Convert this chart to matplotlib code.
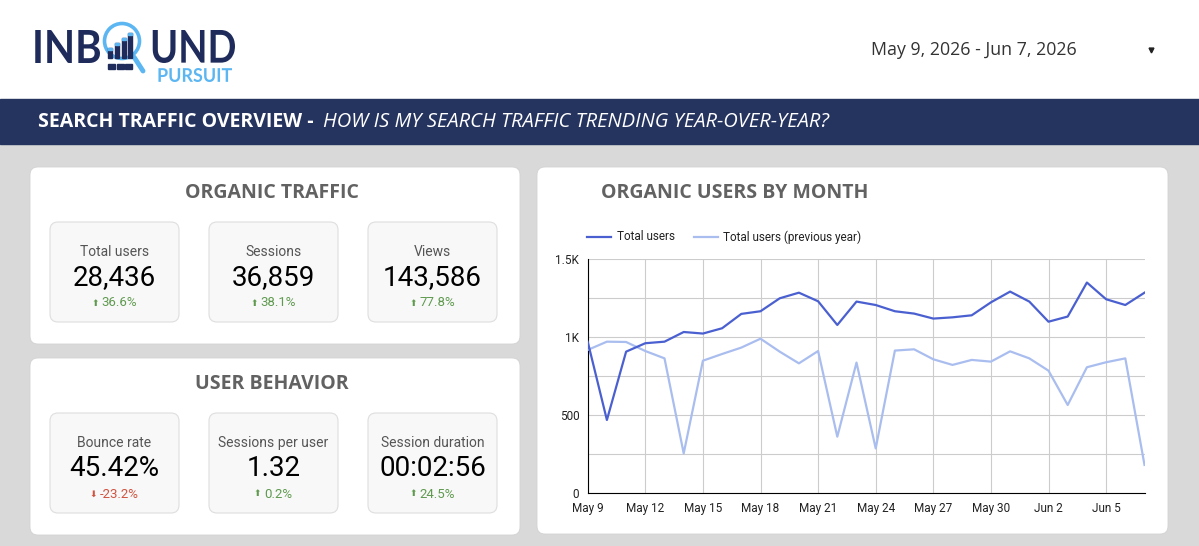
import matplotlib.pyplot as plt
from matplotlib.patches import FancyBboxPatch, Rectangle, Circle, PathPatch
from matplotlib.textpath import TextPath
from matplotlib.font_manager import FontProperties
from matplotlib.transforms import Affine2D
import numpy as np

# Data
days = ['May 9', 'May 10', 'May 11', 'May 12', 'May 13', 'May 14', 'May 15', 'May 16',
        'May 17', 'May 18', 'May 19', 'May 20', 'May 21', 'May 22', 'May 23', 'May 24',
        'May 25', 'May 26', 'May 27', 'May 28', 'May 29', 'May 30', 'May 31', 'Jun 1',
        'Jun 2', 'Jun 3', 'Jun 4', 'Jun 5', 'Jun 6', 'Jun 7']
users = [972, 470, 908, 962, 972, 1034, 1024, 1058, 1150, 1167, 1250, 1286, 1231, 1079,
         1229, 1207, 1167, 1152, 1120, 1128, 1141, 1224, 1293, 1229, 1100, 1133, 1351,
         1244, 1207, 1286]
users_prev = [919, 972, 970, 912, 865, 256, 850, 893, 934, 991, 908, 833, 912, 363, 838,
              288, 915, 923, 859, 823, 855, 844, 910, 865, 786, 566, 808, 840, 865, 182]

traffic_labels = ['Total users', 'Sessions', 'Views']
traffic_values = ['28,436', '36,859', '143,586']
traffic_deltas = ['36.6%', '38.1%', '77.8%']
traffic_up = [True, True, True]

behavior_labels = ['Bounce rate', 'Sessions per user', 'Session duration']
behavior_values = ['45.42%', '1.32', '00:02:56']
behavior_deltas = ['-23.2%', '0.2%', '24.5%']
behavior_up = [False, True, True]

date_range = 'May 9, 2026 - Jun 7, 2026'

W, H = 1199, 546
NAVY = '#25335f'
LOGO_NAVY = '#1f2c5b'
LOGO_BLUE = '#5cb6f2'
BG = '#d9d9d9'
TITLE = '#626262'
DARK = '#4b60d0'
LIGHT = '#a9bdef'
GREEN = '#5f9a4f'
RED = '#d0533f'

fig = plt.figure(figsize=(W / 100, H / 100), dpi=100)
deco = fig.add_axes([0, 0, 1, 1])
deco.set_xlim(0, W)
deco.set_ylim(H, 0)
deco.axis('off')
renderer = fig.canvas.get_renderer()


def fitted_text(s, x0, x1, ytop, ybot, color, family='Lato', weight='normal'):
    # text drawn as a path, stretched into the given pixel box
    tp = TextPath((0, 0), s, size=100, prop=FontProperties(family=family, weight=weight))
    v = tp.vertices
    bx0, bx1 = v[:, 0].min(), v[:, 0].max()
    by0, by1 = v[:, 1].min(), v[:, 1].max()
    tr = (Affine2D().translate(-bx0, -by0)
          .scale((x1 - x0) / (bx1 - bx0), -(ybot - ytop) / (by1 - by0))
          .translate(x0, ybot))
    deco.add_patch(PathPatch(tr.transform_path(tp), fc=color, ec='none', zorder=3))


# page background, banner
deco.add_patch(Rectangle((0, 0), W, H, color=BG, zorder=0))
deco.add_patch(Rectangle((0, 0), W, 99, color='white', zorder=0))
deco.add_patch(Rectangle((0, 99), W, 45, color=NAVY, zorder=0))
bold = deco.text(38, 122, 'SEARCH TRAFFIC OVERVIEW - ', color='white', fontsize=14,
                 fontfamily='Open Sans', fontweight='bold', va='center', ha='left')
bb = bold.get_window_extent(renderer)
deco.text(bb.x1 + 4, 122, 'HOW IS MY SEARCH TRAFFIC TRENDING YEAR-OVER-YEAR?', color='white',
          fontsize=14.5, fontfamily='Open Sans', fontstyle='italic', va='center', ha='left')

# logo
fitted_text('INB', 32, 100, 30, 63, LOGO_NAVY, weight='bold')
fitted_text('UND', 150, 235, 30, 63, LOGO_NAVY, weight='bold')
fitted_text('PURSUIT', 157, 232, 68, 82, LOGO_BLUE, weight='bold')
deco.add_patch(Circle((122, 41), 17.5, fill=False, ec=LOGO_BLUE, lw=2.6, zorder=3))
deco.plot([134, 143], [57, 71], color=LOGO_BLUE, lw=3.5, solid_capstyle='round', zorder=3)
for bx, btop in zip([108, 115, 122, 128], [48, 43, 38, 33]):
    deco.add_patch(Rectangle((bx, btop), 4, 58 - btop, color=LOGO_NAVY, zorder=4))
    deco.add_patch(Rectangle((bx, btop), 4, 2, color=LOGO_BLUE, zorder=5))
for bx in [108, 117, 125]:
    deco.add_patch(Rectangle((bx, 64), 7, 4.5, color=LOGO_NAVY, zorder=4))

# date picker
deco.text(974, 50, date_range, color='#333333', fontsize=12.8, fontfamily='Open Sans',
          va='center', ha='center')
deco.plot([1151], [50], marker='v', color='#222222', markersize=3.5)


def card(x, y, w, h):
    deco.add_patch(FancyBboxPatch((x, y), w, h, boxstyle='round,pad=0,rounding_size=8',
                                  fc='white', ec='#d2d2d2', lw=0.6, zorder=1))


def kpi_panel(top, title, labels, values, deltas, ups):
    card(30, top, 490, 177)
    deco.text(272, top + 26, title, color=TITLE, fontsize=14, fontfamily='Open Sans',
              fontweight='bold', ha='center', va='center')
    for i, (lab, val, dl, up) in enumerate(zip(labels, values, deltas, ups)):
        bx = 50 + i * 159
        deco.add_patch(FancyBboxPatch((bx, top + 55), 129, 100,
                                      boxstyle='round,pad=0,rounding_size=8',
                                      fc='#f8f8f8', ec='#dedede', lw=0.8, zorder=2))
        cx = bx + 64.5
        deco.text(cx, top + 85, lab, color='#555555', fontsize=10,
                  fontfamily=['Roboto', 'DejaVu Sans'], ha='center', va='center', zorder=3)
        deco.text(cx, top + 111, val, color='black', fontsize=20,
                  fontfamily=['Roboto', 'DejaVu Sans'], ha='center', va='center', zorder=3)
        arrow = '\u2b06' if up else '\u2b07'
        col = GREEN if up else RED
        t = deco.text(cx + 5, top + 136, dl, color=col, fontsize=9.5,
                      fontfamily=['Roboto', 'DejaVu Sans'], ha='center', va='center', zorder=3)
        tb = t.get_window_extent(renderer)
        deco.text(tb.x0 - 3, top + 136, arrow, color=col, fontsize=6.5,
                  fontfamily='DejaVu Sans', ha='right', va='center', zorder=3)


kpi_panel(167, 'ORGANIC TRAFFIC', traffic_labels, traffic_values, traffic_deltas, traffic_up)
kpi_panel(358, 'USER BEHAVIOR', behavior_labels, behavior_values, behavior_deltas, behavior_up)

# chart card
card(537, 167, 631, 367)
deco.text(601, 193, 'ORGANIC USERS BY MONTH', color=TITLE, fontsize=14,
          fontfamily='Open Sans', fontweight='bold', ha='left', va='center')
deco.plot([587, 611], [237, 237], color=DARK, lw=1.6)
deco.text(617, 237, 'Total users', fontsize=8.5, fontfamily='Roboto', va='center',
          color='#222222')
deco.plot([694, 718], [237, 237], color=LIGHT, lw=1.6)
deco.text(723, 237, 'Total users (previous year)', fontsize=8.5, fontfamily='Roboto',
          va='center', color='#222222')

# line chart
left, right, top, bottom = 587.7, 1144.5, 259.3, 493.3
ax = fig.add_axes([left / W, (H - bottom) / H, (right - left) / W, (bottom - top) / H])
ax.set_facecolor('white')
x = np.arange(len(days))
ax.plot(x, users_prev, color=LIGHT, lw=1.6, zorder=3)
ax.plot(x, users, color=DARK, lw=1.6, zorder=4)
ax.set_xlim(0, len(days) - 1)
ax.set_ylim(0, 1500)
ax.set_yticks(np.arange(0, 1501, 250))
ax.set_yticklabels(['0', '', '500', '', '1K', '', '1.5K'])
ax.set_xticks(x[::3])
ax.set_xticklabels(days[::3])
ax.grid(True, color='#cccccc', lw=0.8)
ax.set_axisbelow(True)
for s in ['top', 'right']:
    ax.spines[s].set_visible(False)
ax.spines['left'].set_color('black')
ax.spines['bottom'].set_color('black')
ax.tick_params(length=0, labelsize=8.5, pad=6, labelcolor='#222222')
for lbl in ax.get_xticklabels() + ax.get_yticklabels():
    lbl.set_fontfamily('Roboto')

fig.savefig('out.png', dpi=100)
